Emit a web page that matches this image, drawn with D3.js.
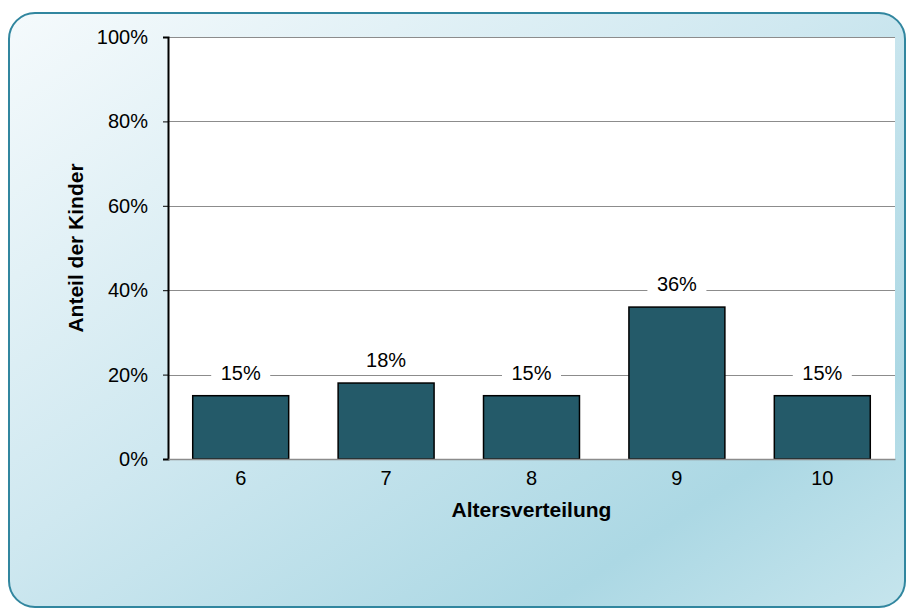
<!DOCTYPE html>
<html>
<head>
<meta charset="utf-8">
<script src="https://cdn.jsdelivr.net/npm/d3@7"></script>
<style>
  body { margin: 0; background: #fff; }
  svg text { font-family: "Liberation Sans", Arial, sans-serif; fill: #000; }
</style>
</head>
<body>
<div class="chart-wrapper"></div>
<script>
const ages = ['6', '7', '8', '9', '10']
const shares = [15, 18, 15, 36, 15]
const yTicks = [0, 20, 40, 60, 80, 100]

const width = 907
const height = 610
const margin = {left: 168, top: 37, right: 12, bottom: 151}

const svg = d3.select('.chart-wrapper')
.append('svg')
.attr('width', width)
.attr('height', height)

const defs = svg.append('defs')
const grad = defs.append('linearGradient')
.attr('id', 'bg-grad')
.attr('x1', '0%').attr('y1', '0%')
.attr('x2', '100%').attr('y2', '100%')
grad.append('stop').attr('offset', '0%').attr('stop-color', '#f5fafc')
grad.append('stop').attr('offset', '45%').attr('stop-color', '#cfe8f0')
grad.append('stop').attr('offset', '80%').attr('stop-color', '#acd8e4')
grad.append('stop').attr('offset', '100%').attr('stop-color', '#c6e5ed')

svg.append('rect')
.attr('x', 9).attr('y', 13)
.attr('width', 896).attr('height', 594)
.attr('rx', 26).attr('ry', 26)
.style('fill', 'url(#bg-grad)')
.style('stroke', '#31869f')
.style('stroke-width', 2)

const xScale = d3.scaleBand()
.domain(ages)
.range([margin.left, width - margin.right])
.paddingInner(0.34)
.paddingOuter(0.17)

const yScale = d3.scaleLinear()
.domain([0, 100])
.range([height - margin.bottom, margin.top])

// plot area
svg.append('rect')
.attr('x', margin.left)
.attr('y', margin.top)
.attr('width', width - margin.right - margin.left)
.attr('height', yScale(0) - margin.top)
.style('fill', '#fff')

// gridlines
svg.append('g')
.selectAll('line')
.data(yTicks)
.enter()
.append('line')
.attr('x1', margin.left)
.attr('x2', width - margin.right)
.attr('y1', d => Math.round(yScale(d)) + 0.5)
.attr('y2', d => Math.round(yScale(d)) + 0.5)
.style('stroke', '#8c8c8c')
.style('stroke-width', 1)

// y axis
const leftAxis = svg.append('g')
.attr('transform', `translate(${margin.left},0)`)
.call(d3.axisLeft(yScale).tickValues(yTicks).tickSize(5).tickPadding(15).tickFormat(d => d + '%'))
leftAxis.select('.domain').style('stroke', '#000').style('stroke-width', 2)
leftAxis.selectAll('.tick line').style('stroke', '#000')
leftAxis.selectAll('text').style('font-size', '20px').attr('font-family', null)

// bars
svg.append('g')
.selectAll('rect')
.data(shares)
.enter()
.append('rect')
.attr('x', (d, i) => xScale(ages[i]))
.attr('y', d => yScale(d))
.attr('width', xScale.bandwidth())
.attr('height', d => yScale(0) - yScale(d))
.style('fill', '#245a69')
.style('stroke', '#000')
.style('stroke-width', 1.5)

// x axis
const xaxis = svg.append('g')
.attr('transform', `translate(0,${yScale(0)})`)
.call(d3.axisBottom(xScale).tickSize(0).tickPadding(12))
xaxis.select('.domain').style('stroke', '#8c8c8c').style('stroke-width', 1.5)
xaxis.selectAll('text').style('font-size', '20px').attr('font-family', null)

// value labels with white background
const labels = svg.append('g')
shares.forEach((d, i) => {
  const cx = xScale(ages[i]) + xScale.bandwidth() / 2
  const base = yScale(d) - 16
  labels.append('rect')
  .attr('x', cx - 29.5)
  .attr('y', base - 19)
  .attr('width', 59)
  .attr('height', 24)
  .style('fill', '#fff')
  labels.append('text')
  .attr('x', cx)
  .attr('y', base)
  .attr('text-anchor', 'middle')
  .style('font-size', '20px')
  .text(d + '%')
})

// axis titles
svg.append('text')
.attr('x', (margin.left + width - margin.right) / 2)
.attr('y', 517)
.attr('text-anchor', 'middle')
.style('font-size', '21px')
.style('font-weight', 'bold')
.text('Altersverteilung')

svg.append('text')
.attr('transform', `translate(83,${(yScale(0) + yScale(100)) / 2}) rotate(-90)`)
.attr('text-anchor', 'middle')
.style('font-size', '21px')
.style('font-weight', 'bold')
.text('Anteil der Kinder')
</script>
</body>
</html>
